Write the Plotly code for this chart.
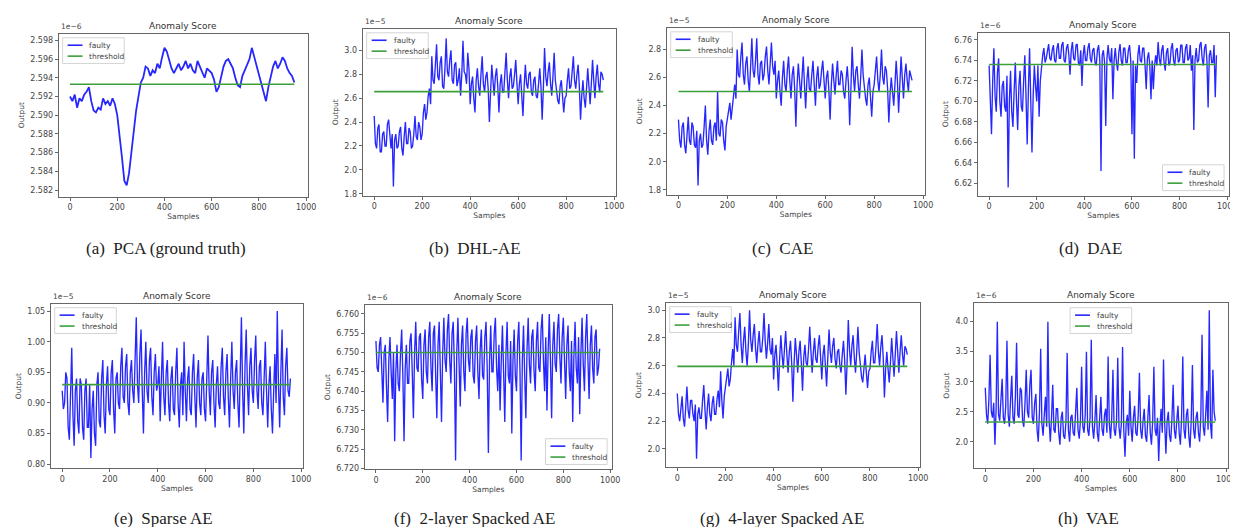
import plotly.graph_objects as go

W, H = 1238, 527

# sample indices
pca_samples = list(range(0, 960, 10))
samples = list(range(0, 960, 5))

pca = [2.5920, 2.5915, 2.5922, 2.5908, 2.5918, 2.5915, 2.5922, 2.5925, 2.5930, 2.5915,
       2.5905, 2.5903, 2.5908, 2.5906, 2.5918, 2.5912, 2.5915, 2.5910, 2.5918, 2.5912,
       2.5900, 2.5880, 2.5855, 2.5830, 2.5825, 2.5838, 2.5860, 2.5885, 2.5905, 2.5920,
       2.5935, 2.5940, 2.5952, 2.5950, 2.5942, 2.5948, 2.5945, 2.5955, 2.5950, 2.5962,
       2.5972, 2.5968, 2.5958, 2.5950, 2.5945, 2.5950, 2.5955, 2.5948, 2.5952, 2.5958,
       2.5950, 2.5955, 2.5948, 2.5945, 2.5958, 2.5952, 2.5945, 2.5940, 2.5950, 2.5948,
       2.5945, 2.5938, 2.5925, 2.5930, 2.5940, 2.5952, 2.5958, 2.5960, 2.5955, 2.5950,
       2.5940, 2.5932, 2.5930, 2.5942, 2.5948, 2.5955, 2.5960, 2.5972, 2.5962, 2.5952,
       2.5945, 2.5935, 2.5922, 2.5915, 2.5930, 2.5940, 2.5952, 2.5958, 2.5950, 2.5955,
       2.5962, 2.5958, 2.5950, 2.5945, 2.5942, 2.5935]

dhl_ae = [2.45, 2.22, 2.18, 2.35, 2.38, 2.15, 2.15, 2.30, 2.32, 2.20, 2.20, 2.38, 2.42, 2.25, 2.18, 2.30, 1.86, 2.25, 2.30, 2.18,
          2.20, 2.32, 2.36, 2.18, 2.12, 2.28, 2.40, 2.22, 2.22, 2.35, 2.32, 2.18, 2.20, 2.30, 2.45, 2.28, 2.25, 2.40, 2.36, 2.25,
          2.30, 2.48, 2.55, 2.42, 2.48, 2.62, 2.68, 2.55, 2.95, 2.75, 2.72, 2.88, 3.05, 2.78, 2.75, 2.90, 2.95, 2.70, 2.68, 2.85,
          3.10, 2.82, 2.78, 2.92, 3.00, 2.75, 2.72, 2.88, 2.90, 2.70, 2.75, 2.85, 2.62, 2.80, 3.08, 2.82, 2.80, 2.72, 2.98, 2.85,
          2.55, 2.72, 2.78, 2.60, 2.48, 2.75, 2.85, 2.70, 2.62, 2.80, 2.95, 2.72, 2.65, 2.78, 2.82, 2.68, 2.40, 2.65, 2.88, 2.75,
          2.62, 2.78, 2.85, 2.70, 2.48, 2.72, 2.80, 2.65, 2.65, 2.82, 2.98, 2.75, 2.60, 2.78, 2.85, 2.68, 2.70, 2.80, 2.92, 2.72,
          2.55, 2.72, 2.80, 2.62, 2.45, 2.70, 2.88, 2.72, 2.68, 2.80, 2.82, 2.65, 2.62, 2.75, 2.78, 2.62, 2.60, 2.72, 2.85, 2.70,
          2.42, 2.68, 3.02, 2.78, 2.70, 2.82, 2.90, 2.72, 2.62, 2.78, 2.98, 2.75, 2.65, 2.58, 2.55, 2.70, 2.75, 2.58, 2.48, 2.60,
          2.62, 2.75, 2.85, 2.68, 2.70, 2.82, 2.95, 2.75, 2.68, 2.80, 2.88, 2.70, 2.42, 2.62, 2.75, 2.60, 2.52, 2.68, 2.85, 2.70,
          2.55, 2.72, 2.92, 2.75, 2.60, 2.78, 2.88, 2.72, 2.65, 2.82, 2.80, 2.75]

cae = [2.30, 2.15, 2.10, 2.25, 2.28, 2.12, 2.06, 2.20, 2.32, 2.15, 2.12, 2.28, 2.25, 2.12, 2.10, 2.22, 1.83, 2.15, 2.20, 2.10,
       2.12, 2.25, 2.40, 2.15, 2.05, 2.22, 2.30, 2.15, 2.12, 2.25, 2.28, 2.15, 2.50, 2.20, 2.18, 2.30, 2.28, 2.15, 2.08, 2.25,
       2.30, 2.38, 2.42, 2.30, 2.38, 2.50, 2.55, 2.45, 2.80, 2.62, 2.60, 2.75, 2.85, 2.62, 2.55, 2.70, 2.75, 2.58, 2.50, 2.68,
       2.88, 2.65, 2.60, 2.72, 2.88, 2.62, 2.55, 2.70, 2.72, 2.58, 2.62, 2.75, 2.82, 2.65, 2.55, 2.70, 2.85, 2.68, 2.62, 2.72,
       2.45, 2.58, 2.65, 2.50, 2.40, 2.60, 2.72, 2.55, 2.50, 2.65, 2.75, 2.58, 2.45, 2.62, 2.68, 2.52, 2.25, 2.55, 2.70, 2.58,
       2.45, 2.60, 2.75, 2.55, 2.38, 2.58, 2.68, 2.52, 2.50, 2.62, 2.72, 2.55, 2.40, 2.60, 2.68, 2.52, 2.55, 2.65, 2.72, 2.58,
       2.45, 2.60, 2.65, 2.50, 2.30, 2.55, 2.70, 2.58, 2.48, 2.62, 2.72, 2.55, 2.55, 2.65, 2.62, 2.50, 2.45, 2.58, 2.68, 2.55,
       2.26, 2.52, 2.82, 2.62, 2.50, 2.65, 2.68, 2.55, 2.45, 2.60, 2.80, 2.62, 2.52, 2.45, 2.40, 2.55, 2.60, 2.48, 2.32, 2.50,
       2.55, 2.65, 2.75, 2.58, 2.50, 2.62, 2.80, 2.60, 2.55, 2.68, 2.65, 2.52, 2.28, 2.48, 2.60, 2.50, 2.40, 2.55, 2.72, 2.58,
       2.35, 2.55, 2.75, 2.60, 2.45, 2.62, 2.70, 2.58, 2.50, 2.65, 2.62, 2.58]

dae = [6.735, 6.700, 6.668, 6.720, 6.752, 6.705, 6.690, 6.728, 6.742, 6.700, 6.685, 6.715, 6.720, 6.695, 6.690, 6.725, 6.616, 6.700, 6.730, 6.690,
       6.675, 6.710, 6.738, 6.700, 6.672, 6.715, 6.730, 6.695, 6.690, 6.720, 6.745, 6.705, 6.658, 6.712, 6.752, 6.700, 6.650, 6.705, 6.735, 6.715,
       6.700, 6.735, 6.685, 6.720, 6.735, 6.745, 6.752, 6.738, 6.742, 6.752, 6.756, 6.742, 6.740, 6.750, 6.755, 6.740, 6.738, 6.752, 6.757, 6.742,
       6.742, 6.755, 6.758, 6.740, 6.738, 6.752, 6.756, 6.745, 6.726, 6.750, 6.758, 6.742, 6.740, 6.755, 6.756, 6.738, 6.735, 6.750, 6.715, 6.745,
       6.755, 6.740, 6.740, 6.752, 6.757, 6.742, 6.738, 6.750, 6.752, 6.738, 6.735, 6.750, 6.755, 6.740, 6.632, 6.745, 6.750, 6.738, 6.676, 6.742,
       6.755, 6.742, 6.738, 6.752, 6.702, 6.740, 6.752, 6.738, 6.730, 6.748, 6.756, 6.740, 6.735, 6.752, 6.752, 6.738, 6.738, 6.750, 6.755, 6.740,
       6.668, 6.740, 6.644, 6.735, 6.718, 6.745, 6.755, 6.740, 6.738, 6.752, 6.752, 6.735, 6.712, 6.742, 6.748, 6.735, 6.702, 6.740, 6.712, 6.735,
       6.745, 6.735, 6.758, 6.742, 6.735, 6.750, 6.755, 6.738, 6.730, 6.748, 6.752, 6.735, 6.738, 6.752, 6.757, 6.740, 6.735, 6.750, 6.752, 6.738,
       6.740, 6.755, 6.755, 6.738, 6.738, 6.752, 6.756, 6.740, 6.742, 6.755, 6.730, 6.745, 6.672, 6.740, 6.752, 6.738, 6.740, 6.755, 6.758, 6.742,
       6.735, 6.752, 6.756, 6.740, 6.694, 6.745, 6.750, 6.738, 6.738, 6.755, 6.704, 6.745]

sparse_ae = [0.92, 0.89, 0.90, 0.95, 0.94, 0.86, 0.84, 0.93, 0.99, 0.88, 0.83, 0.92, 0.94, 0.87, 0.85, 0.94, 0.93, 0.86, 0.84, 0.92,
             0.94, 0.86, 0.86, 0.93, 0.81, 0.89, 0.92, 0.85, 0.83, 0.93, 0.95, 0.87, 0.86, 0.94, 0.97, 0.88, 0.85, 0.93, 0.96, 0.89,
             0.88, 0.95, 0.97, 0.89, 0.85, 0.94, 0.95, 0.90, 0.89, 0.96, 0.99, 0.91, 0.90, 0.96, 0.98, 0.90, 0.88, 0.95, 0.97, 0.92,
             0.90, 0.97, 1.04, 0.93, 0.90, 0.98, 1.02, 0.92, 0.85, 0.95, 1.00, 0.92, 0.90, 0.97, 0.99, 0.91, 0.88, 0.95, 0.98, 0.92,
             0.93, 0.96, 0.87, 0.94, 1.00, 0.91, 0.88, 0.95, 0.97, 0.90, 0.87, 0.94, 0.96, 0.89, 0.88, 0.95, 0.99, 0.90, 0.86, 0.93,
             0.95, 0.88, 1.00, 0.92, 0.87, 0.94, 0.96, 0.89, 0.88, 0.95, 0.98, 0.91, 0.86, 0.94, 0.97, 0.90, 0.88, 0.94, 0.95, 0.89,
             0.87, 0.94, 1.01, 0.92, 0.88, 0.95, 0.97, 0.90, 0.86, 0.93, 0.96, 0.90, 0.89, 0.96, 0.99, 0.91, 0.88, 0.95, 0.98, 0.91,
             0.86, 0.94, 1.00, 0.92, 0.89, 0.95, 0.97, 0.90, 0.86, 0.95, 1.04, 0.92, 0.85, 0.96, 1.02, 0.93, 0.88, 0.96, 0.99, 0.92,
             0.90, 0.97, 1.01, 0.92, 0.89, 0.96, 0.97, 0.90, 0.88, 0.94, 1.00, 0.92, 0.86, 0.93, 0.96, 0.89, 0.85, 0.92, 0.98, 0.90,
             1.05, 0.93, 0.86, 0.95, 1.02, 0.91, 0.88, 0.96, 0.99, 0.92, 0.91, 0.94]

stacked2 = [6.753, 6.746, 6.745, 6.752, 6.754, 6.744, 6.737, 6.750, 6.752, 6.741, 6.732, 6.748, 6.754, 6.745, 6.738, 6.750, 6.727, 6.745, 6.752, 6.742,
            6.740, 6.750, 6.756, 6.744, 6.727, 6.746, 6.752, 6.742, 6.742, 6.753, 6.755, 6.745, 6.733, 6.750, 6.758, 6.746, 6.745, 6.754, 6.755, 6.743,
            6.738, 6.752, 6.756, 6.745, 6.742, 6.754, 6.758, 6.746, 6.740, 6.755, 6.757, 6.744, 6.733, 6.752, 6.758, 6.745, 6.732, 6.750, 6.759, 6.748,
            6.745, 6.756, 6.760, 6.748, 6.742, 6.755, 6.758, 6.746, 6.722, 6.750, 6.759, 6.747, 6.736, 6.752, 6.757, 6.745, 6.740, 6.755, 6.759, 6.748,
            6.745, 6.754, 6.756, 6.744, 6.742, 6.753, 6.757, 6.745, 6.738, 6.751, 6.756, 6.744, 6.743, 6.754, 6.758, 6.746, 6.724, 6.748, 6.757, 6.745,
            6.745, 6.755, 6.759, 6.746, 6.740, 6.752, 6.735, 6.748, 6.757, 6.745, 6.732, 6.750, 6.758, 6.744, 6.742, 6.753, 6.729, 6.748, 6.756, 6.744,
            6.740, 6.753, 6.758, 6.745, 6.722, 6.748, 6.757, 6.744, 6.733, 6.751, 6.759, 6.747, 6.742, 6.754, 6.756, 6.745, 6.740, 6.753, 6.758, 6.746,
            6.745, 6.756, 6.760, 6.748, 6.740, 6.754, 6.735, 6.750, 6.760, 6.748, 6.733, 6.752, 6.758, 6.747, 6.745, 6.756, 6.760, 6.749, 6.742, 6.754,
            6.759, 6.748, 6.738, 6.752, 6.757, 6.745, 6.740, 6.753, 6.732, 6.749, 6.758, 6.746, 6.742, 6.754, 6.734, 6.750, 6.759, 6.747, 6.740, 6.754,
            6.760, 6.748, 6.738, 6.752, 6.757, 6.746, 6.742, 6.754, 6.756, 6.744, 6.746, 6.751]

stacked4 = [2.40, 2.25, 2.20, 2.32, 2.38, 2.22, 2.16, 2.30, 2.45, 2.28, 2.22, 2.35, 2.35, 2.25, 2.20, 2.32, 1.93, 2.25, 2.30, 2.22,
            2.22, 2.35, 2.46, 2.28, 2.14, 2.30, 2.40, 2.25, 2.20, 2.33, 2.38, 2.25, 2.25, 2.36, 2.42, 2.30, 2.56, 2.35, 2.22, 2.38,
            2.45, 2.52, 2.58, 2.45, 2.50, 2.62, 2.72, 2.60, 2.95, 2.75, 2.70, 2.85, 2.98, 2.75, 2.62, 2.78, 2.88, 2.70, 2.60, 2.75,
            3.00, 2.78, 2.70, 2.82, 2.90, 2.72, 2.62, 2.76, 2.85, 2.70, 2.70, 2.80, 2.98, 2.78, 2.65, 2.76, 2.90, 2.72, 2.68, 2.80,
            2.50, 2.68, 2.75, 2.60, 2.42, 2.65, 2.82, 2.68, 2.58, 2.72, 2.85, 2.68, 2.55, 2.70, 2.78, 2.62, 2.34, 2.62, 2.80, 2.68,
            2.55, 2.70, 2.78, 2.62, 2.42, 2.66, 2.75, 2.62, 2.60, 2.72, 2.88, 2.70, 2.55, 2.70, 2.80, 2.65, 2.62, 2.74, 2.82, 2.66,
            2.50, 2.68, 2.75, 2.60, 2.45, 2.66, 2.86, 2.70, 2.62, 2.74, 2.80, 2.65, 2.58, 2.70, 2.72, 2.60, 2.55, 2.68, 2.78, 2.64,
            2.39, 2.62, 2.93, 2.72, 2.60, 2.74, 2.82, 2.66, 2.55, 2.70, 2.88, 2.70, 2.58, 2.52, 2.48, 2.62, 2.68, 2.55, 2.44, 2.56,
            2.58, 2.70, 2.78, 2.62, 2.62, 2.74, 2.90, 2.70, 2.60, 2.74, 2.82, 2.66, 2.37, 2.58, 2.70, 2.58, 2.48, 2.62, 2.80, 2.66,
            2.52, 2.68, 2.85, 2.70, 2.55, 2.70, 2.82, 2.68, 2.60, 2.74, 2.72, 2.68]

vae = [2.90, 2.45, 2.30, 2.70, 3.45, 2.50, 2.40, 2.65, 1.95, 2.55, 4.00, 2.45, 2.35, 2.80, 3.05, 2.40, 2.30, 2.60, 3.68, 2.45,
       2.25, 2.70, 3.10, 2.40, 2.30, 2.75, 3.65, 2.45, 2.40, 2.90, 2.85, 2.35, 2.25, 2.65, 3.20, 2.50, 2.40, 2.95, 3.20, 2.40,
       2.30, 2.65, 2.80, 2.20, 2.00, 2.50, 3.55, 2.30, 2.10, 2.45, 2.75, 2.25, 4.00, 2.35, 2.00, 2.40, 2.95, 2.20, 2.15, 2.55,
       2.55, 2.15, 1.95, 2.40, 2.50, 2.10, 2.05, 2.35, 3.48, 2.20, 2.00, 2.40, 2.45, 2.15, 2.10, 2.50, 2.90, 2.20, 2.05, 2.35,
       3.25, 2.25, 2.15, 2.45, 3.50, 2.20, 2.10, 2.40, 3.70, 2.25, 2.05, 2.35, 2.78, 2.15, 2.00, 2.40, 2.75, 2.20, 2.10, 2.45,
       2.55, 2.15, 3.42, 2.30, 2.05, 2.40, 3.20, 2.20, 2.10, 2.35, 3.40, 2.25, 2.05, 2.30, 3.58, 2.20, 1.75, 2.30, 2.45, 2.10,
       2.85, 2.25, 2.00, 2.40, 2.60, 2.15, 2.10, 2.45, 3.15, 2.20, 2.05, 2.35, 2.55, 2.10, 2.00, 2.40, 2.78, 2.15, 1.95, 2.35,
       3.25, 2.20, 2.10, 2.40, 1.68, 2.25, 2.55, 2.15, 3.37, 2.30, 1.80, 2.35, 2.50, 2.10, 2.00, 2.40, 2.95, 2.20, 2.05, 2.35,
       2.60, 2.15, 1.95, 2.40, 3.42, 2.20, 2.05, 2.45, 2.55, 2.10, 1.90, 2.35, 3.28, 2.20, 2.05, 2.40, 2.50, 2.15, 2.00, 2.45,
       3.78, 2.25, 2.10, 2.45, 2.85, 2.20, 4.19, 2.30, 2.05, 3.20, 2.50, 2.35]

thresholds = [2.5933, 2.655, 2.50, 6.736, 0.930, 6.750, 2.595, 2.33]
exponents = ["1e−6", "1e−5", "1e−5", "1e−6", "1e−5", "1e−6", "1e−5", "1e−6"]
captions = ["(a)  PCA (ground truth)", "(b)  DHL-AE", "(c)  CAE", "(d)  DAE",
            "(e)  Sparse AE", "(f)  2-layer Spacked AE", "(g)  4-layer Spacked AE", "(h)  VAE"]
legend_labels = ["faulty", "threshold"]
series = [pca, dhl_ae, cae, dae, sparse_ae, stacked2, stacked4, vae]
series_x = [pca_samples] + [samples] * 7
x_ticks = [0, 200, 400, 600, 800, 1000]

# layout specs (pixel boxes: left, right, top, bottom)
boxes = [(51, 302, 26, 190), (357, 612, 21, 189), (663, 923, 20, 188), (976, 1229, 25, 189),
         (43, 297, 298, 464), (359, 608, 299, 465), (662, 918, 297, 463), (972, 1228, 297, 464)]
yranges = [(2.5813, 2.5987), (1.785, 3.18), (1.766, 2.954), (6.608, 6.767),
           (0.793, 1.062), (6.7197, 6.7624), (1.866, 3.054), (1.555, 4.315)]
yticks = [[2.582, 2.584, 2.586, 2.588, 2.590, 2.592, 2.594, 2.596, 2.598],
          [1.8, 2.0, 2.2, 2.4, 2.6, 2.8, 3.0],
          [1.8, 2.0, 2.2, 2.4, 2.6, 2.8],
          [6.62, 6.64, 6.66, 6.68, 6.70, 6.72, 6.74, 6.76],
          [0.80, 0.85, 0.90, 0.95, 1.00, 1.05],
          [6.720, 6.725, 6.730, 6.735, 6.740, 6.745, 6.750, 6.755, 6.760],
          [2.0, 2.2, 2.4, 2.6, 2.8, 3.0],
          [2.0, 2.5, 3.0, 3.5, 4.0]]
yfmts = [".3f", ".1f", ".1f", ".2f", ".2f", ".3f", ".1f", ".1f"]
legend_pos = ["ul", "ul", "ul", "lr", "ul", "lr", "ul", "uc"]
caption_x = [159, 470, 780, 1090, 157, 470, 779, 1088]
caption_y = [242, 242, 242, 242, 514, 514, 514, 514]

FAULTY = "rgba(0,0,255,0.85)"
THRESH = "#3c9f3c"

fig = go.Figure()
annotations = []
shapes = []
layout = dict(width=W, height=H, margin=dict(l=0, r=0, t=0, b=0),
              paper_bgcolor="white", plot_bgcolor="white", showlegend=False,
              font=dict(family="DejaVu Sans", color="#444"))


def px(x):
    return x / W


def py(y):
    return 1 - y / H


for i in range(8):
    k = "" if i == 0 else str(i + 1)
    L, R, T, B = boxes[i]
    fig.add_trace(go.Scatter(x=series_x[i], y=series[i], mode="lines", name=legend_labels[0],
                             line=dict(color=FAULTY, width=1.8 if i == 0 else 1.35),
                             xaxis="x" + k, yaxis="y" + k))
    fig.add_trace(go.Scatter(x=[series_x[i][0], series_x[i][-1]], y=[thresholds[i]] * 2,
                             mode="lines", name=legend_labels[1],
                             line=dict(color=THRESH, width=1.6),
                             xaxis="x" + k, yaxis="y" + k))
    axcommon = dict(showline=True, mirror=True, linecolor="#666", linewidth=1,
                    showgrid=False, zeroline=False, ticks="outside", ticklen=3,
                    tickcolor="#666", tickfont=dict(size=8, color="#444"))
    layout["xaxis" + k] = dict(domain=[px(L), px(R)], range=[-48, 1008], tickvals=x_ticks,
                               anchor="y" + k,
                               title=dict(text="Samples", font=dict(size=7.5, color="#444"),
                                          standoff=0), **axcommon)
    layout["yaxis" + k] = dict(domain=[py(B), py(T)], range=list(yranges[i]), tickvals=yticks[i],
                               tickformat=yfmts[i], anchor="x" + k,
                               title=dict(text="Output", font=dict(size=7.5, color="#444"),
                                          standoff=4), **axcommon)
    # legend box (drawn in paper coordinates, like matplotlib's legend frame)
    lw, lh = 62, 26
    p = legend_pos[i]
    if p == "ul":
        lx, ly = L + 4, T + 4
    elif p == "lr":
        lx, ly = R - 5 - lw, B - 5 - lh
    else:
        lx, ly = (L + R) / 2 - lw / 2, T + 5
    shapes.append(dict(type="rect", xref="paper", yref="paper",
                       x0=px(lx), x1=px(lx + lw), y0=py(ly + lh), y1=py(ly),
                       line=dict(color="#d4d4d4", width=1), fillcolor="rgba(255,255,255,0.8)",
                       layer="above"))
    for j, (lab, col) in enumerate(zip(legend_labels, [FAULTY, THRESH])):
        yy = ly + 7.5 + j * 11
        shapes.append(dict(type="line", xref="paper", yref="paper",
                           x0=px(lx + 5), x1=px(lx + 20), y0=py(yy), y1=py(yy),
                           line=dict(color=col, width=1.6), layer="above"))
        annotations.append(dict(text=lab, x=px(lx + 25), y=py(yy), xref="paper", yref="paper",
                                xanchor="left", yanchor="middle", showarrow=False,
                                font=dict(size=7.5, color="#444")))
    # title, offset text and caption
    annotations.append(dict(text="Anomaly Score", x=px((L + R) / 2), y=py(T - 1),
                            xref="paper", yref="paper", xanchor="center", yanchor="bottom",
                            showarrow=False, font=dict(size=9, color="#333")))
    annotations.append(dict(text=exponents[i], x=px(L), y=py(T - 1),
                            xref="paper", yref="paper", xanchor="left", yanchor="bottom",
                            showarrow=False, font=dict(size=7.5, color="#444")))
    annotations.append(dict(text=captions[i], x=px(caption_x[i]), y=py(caption_y[i]),
                            xref="paper", yref="paper", xanchor="center", yanchor="middle",
                            showarrow=False,
                            font=dict(family="Liberation Serif", size=17, color="#222")))

layout["annotations"] = annotations
layout["shapes"] = shapes
fig.update_layout(**layout)
fig.write_html("out.html")
